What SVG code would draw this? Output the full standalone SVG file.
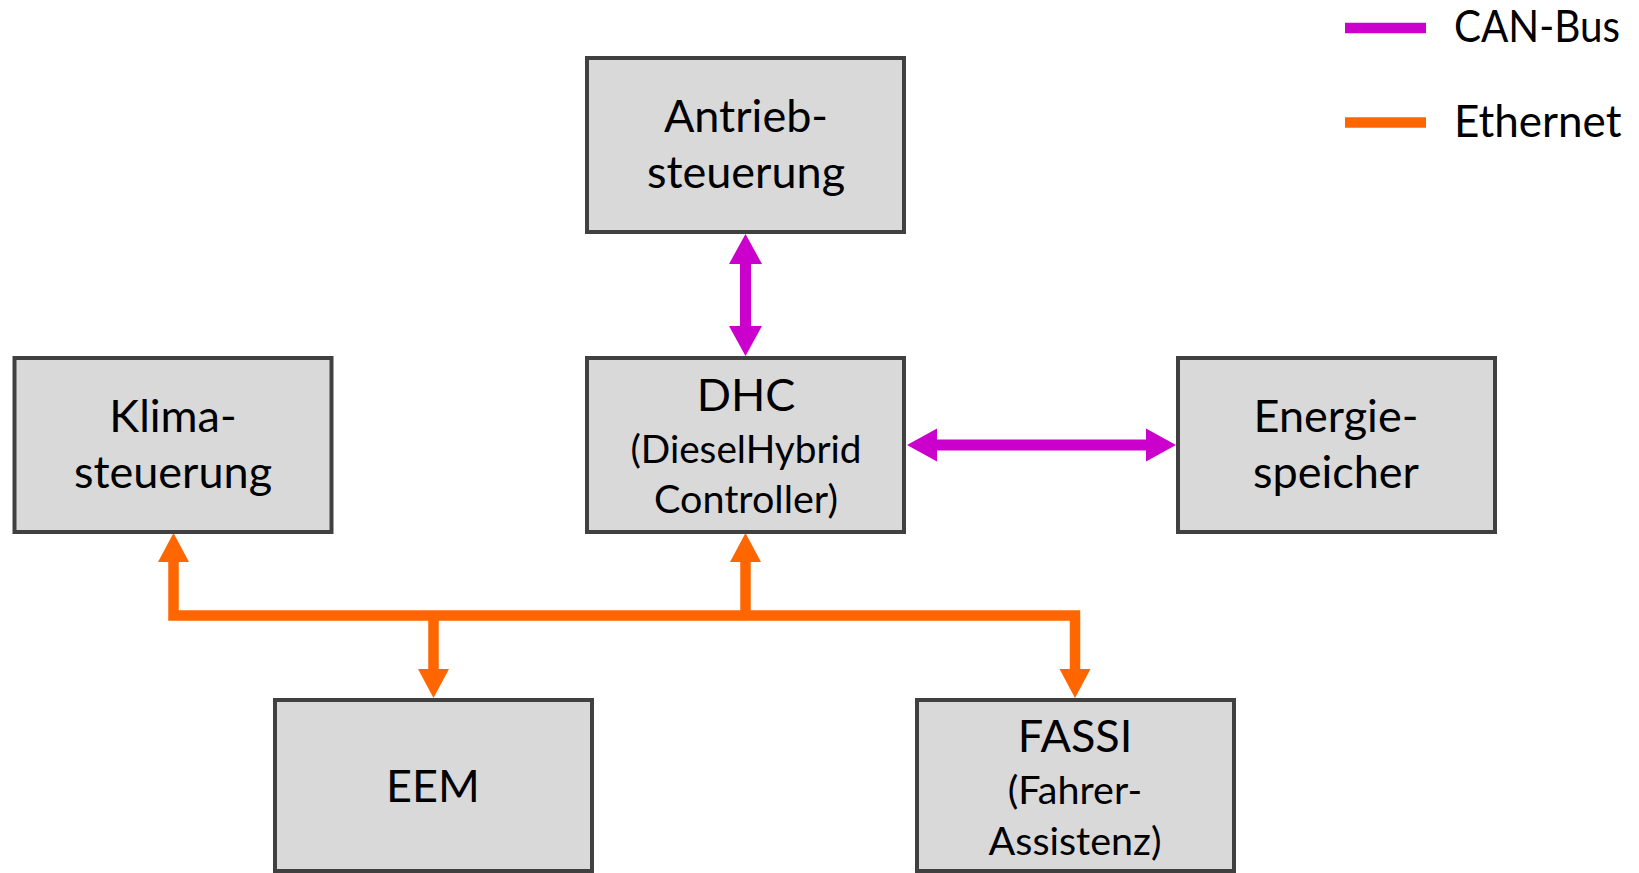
<svg xmlns="http://www.w3.org/2000/svg" width="1639" height="873" viewBox="0 0 1639 873">
  <style>
    .box rect { fill: #D9D9D9; stroke: #404040; stroke-width: 4; }
    .lbl { font-family: Lato, "Open Sans", "Liberation Sans", sans-serif; fill: #000; text-anchor: middle; }
    .big { font-size: 45px; }
    .small { font-size: 39.5px; }
    .can { fill: none; stroke: #CC00CC; stroke-width: 11; }
    .eth { fill: none; stroke: #FF6600; stroke-width: 10.5; stroke-linejoin: miter; }
    .legend { font-family: Lato, "Open Sans", "Liberation Sans", sans-serif; font-size: 44px; fill: #000; }
  </style>
  <defs>
    <marker id="headCan" markerUnits="userSpaceOnUse" markerWidth="31" markerHeight="33" refX="0" refY="16.5" orient="auto-start-reverse" overflow="visible">
      <path d="M0,0 L30,16.5 L0,33 z" fill="#CC00CC"/>
    </marker>
    <marker id="headEth" markerUnits="userSpaceOnUse" markerWidth="30" markerHeight="31" refX="0" refY="15.5" orient="auto-start-reverse" overflow="visible">
      <path d="M0,0 L29,15.5 L0,31 z" fill="#FF6600"/>
    </marker>
  </defs>

  <!-- legend -->
  <g id="legend">
    <line x1="1345" y1="28" x2="1426" y2="28" stroke="#CC00CC" stroke-width="10.5"/>
    <text class="legend" x="1454" y="42" textLength="166" lengthAdjust="spacingAndGlyphs">CAN-Bus</text>
    <line x1="1345" y1="122.5" x2="1426" y2="122.5" stroke="#FF6600" stroke-width="10.5"/>
    <text class="legend" x="1454" y="137">Ethernet</text>
  </g>

  <!-- connectors -->
  <g id="connectors">
    <line class="can" x1="745.5" y1="264" x2="745.5" y2="326" marker-start="url(#headCan)" marker-end="url(#headCan)"/>
    <line class="can" x1="937" y1="445" x2="1146" y2="445" marker-start="url(#headCan)" marker-end="url(#headCan)"/>
    <path class="eth" d="M173.5,562 V615.5 H1075 V669" marker-start="url(#headEth)" marker-end="url(#headEth)"/>
    <path class="eth" d="M745.5,562 V620" marker-start="url(#headEth)"/>
    <path class="eth" d="M433.5,611 V669" marker-end="url(#headEth)"/>
  </g>

  <!-- nodes -->
  <g id="antrieb" class="box">
    <rect x="587" y="58" width="317" height="174"/>
    <text class="lbl big" x="746" y="132">Antrieb-</text>
    <text class="lbl big" x="746" y="188">steuerung</text>
  </g>
  <g id="klima" class="box">
    <rect x="14.5" y="358" width="317" height="174"/>
    <text class="lbl big" x="173" y="432">Klima-</text>
    <text class="lbl big" x="173" y="488">steuerung</text>
  </g>
  <g id="dhc" class="box">
    <rect x="587" y="358" width="317" height="174"/>
    <text class="lbl big" x="746" y="411">DHC</text>
    <text class="lbl small" x="746" y="463" textLength="231" lengthAdjust="spacingAndGlyphs">(DieselHybrid</text>
    <text class="lbl small" x="746" y="513">Controller)</text>
  </g>
  <g id="energie" class="box">
    <rect x="1178" y="358" width="317" height="174"/>
    <text class="lbl big" x="1336" y="432">Energie-</text>
    <text class="lbl big" x="1336" y="488">speicher</text>
  </g>
  <g id="eem" class="box">
    <rect x="275" y="700" width="317" height="171"/>
    <text class="lbl big" x="433" y="802">EEM</text>
  </g>
  <g id="fassi" class="box">
    <rect x="917" y="700" width="317" height="171"/>
    <text class="lbl big" x="1075" y="752">FASSI</text>
    <text class="lbl small" x="1075" y="804">(Fahrer-</text>
    <text class="lbl small" x="1075" y="855">Assistenz)</text>
  </g>
</svg>
